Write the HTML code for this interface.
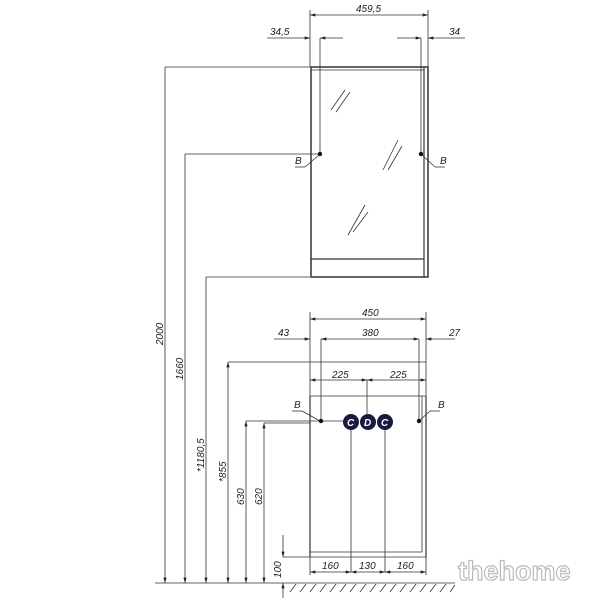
<!DOCTYPE html>
<html><head><meta charset="utf-8"><style>
html,body{margin:0;padding:0;background:#fff}
svg{display:block}
text{font-family:"Liberation Sans",sans-serif;font-style:italic;font-size:10px;fill:#222}
.wm{font-family:"Liberation Sans",sans-serif;font-style:normal;font-weight:bold;font-size:27px;fill:#fff;stroke:#bbb;stroke-width:1.2}
</style></head><body>
<svg width="600" height="600" viewBox="0 0 600 600" xmlns="http://www.w3.org/2000/svg">
<defs>
<marker id="a" viewBox="0 0 10 6" refX="10" refY="3" markerWidth="7" markerHeight="4" orient="auto-start-reverse"><path d="M0,0L10,3L0,6z" fill="#222"/></marker>
</defs>
<g stroke="#333" stroke-width="0.8" fill="none">
<!-- upper cabinet -->
<rect x="311" y="67" width="117" height="210" stroke-width="1.5"/>
<line x1="311" y1="70" x2="424" y2="70"/>
<line x1="424" y1="67" x2="424" y2="277" stroke-width="1.2"/>
<line x1="311" y1="259" x2="424" y2="259" stroke-width="1.2"/>
<!-- glass hatches -->
<line x1="331" y1="110" x2="345" y2="90"/><line x1="336" y1="112" x2="350" y2="92"/>
<line x1="383" y1="170" x2="398" y2="140"/><line x1="388" y1="170" x2="402" y2="146"/>
<line x1="348" y1="235" x2="365" y2="205"/><line x1="353" y1="232" x2="368" y2="212"/>
<!-- top dims -->
<line x1="310" y1="10" x2="310" y2="67"/><line x1="428" y1="10" x2="428" y2="67"/>
<line x1="310" y1="15" x2="428" y2="15" marker-start="url(#a)" marker-end="url(#a)"/>
<line x1="267" y1="38" x2="310" y2="38" marker-end="url(#a)"/>
<line x1="343" y1="38" x2="320" y2="38" marker-end="url(#a)"/>
<line x1="320" y1="38" x2="320" y2="154"/>
<line x1="397" y1="38" x2="421" y2="38" marker-end="url(#a)"/>
<line x1="465" y1="38" x2="428" y2="38" marker-end="url(#a)"/>
<line x1="421" y1="38" x2="421" y2="154"/>
<!-- B leaders upper -->
<line x1="295" y1="167" x2="305" y2="167"/><line x1="305" y1="167" x2="319" y2="155"/>
<line x1="435" y1="167" x2="445" y2="167"/><line x1="435" y1="167" x2="422" y2="155"/>
<line x1="292" y1="411" x2="302" y2="411"/><line x1="302" y1="411" x2="320" y2="421"/>
<line x1="430" y1="411" x2="440" y2="411"/><line x1="430" y1="411" x2="420" y2="420"/>
<!-- lower cabinet -->
<line x1="310" y1="396" x2="310" y2="557" stroke-width="1.2"/>
<line x1="426" y1="396" x2="426" y2="557" stroke-width="1.2"/>
<line x1="422" y1="396" x2="422" y2="552"/>
<line x1="310" y1="396" x2="426" y2="396"/>
<line x1="310" y1="552" x2="422" y2="552"/>
<line x1="283" y1="557" x2="426" y2="557"/>
<!-- lower dims -->
<line x1="310" y1="312" x2="310" y2="396"/><line x1="426" y1="312" x2="426" y2="396"/>
<line x1="310" y1="319" x2="426" y2="319" marker-start="url(#a)" marker-end="url(#a)"/>
<line x1="274" y1="339" x2="310" y2="339" marker-end="url(#a)"/>
<line x1="321" y1="339" x2="419" y2="339" marker-start="url(#a)" marker-end="url(#a)"/>
<line x1="455" y1="339" x2="426" y2="339" marker-end="url(#a)"/>
<line x1="321" y1="339" x2="321" y2="421"/><line x1="419" y1="339" x2="419" y2="421"/>
<line x1="228" y1="362" x2="426" y2="362"/>
<line x1="310" y1="380" x2="367" y2="380" marker-start="url(#a)" marker-end="url(#a)"/>
<line x1="367" y1="380" x2="426" y2="380" marker-start="url(#a)" marker-end="url(#a)"/>
<line x1="367" y1="380" x2="367" y2="414"/>
<line x1="246" y1="421" x2="343" y2="421"/>
<line x1="264" y1="423" x2="310" y2="423"/>
<line x1="351" y1="422" x2="351" y2="572"/><line x1="385" y1="422" x2="385" y2="572"/>
<line x1="310" y1="557" x2="310" y2="575"/><line x1="426" y1="557" x2="426" y2="575"/>
<line x1="310" y1="572" x2="351" y2="572" marker-start="url(#a)" marker-end="url(#a)"/>
<line x1="351" y1="572" x2="385" y2="572" marker-start="url(#a)" marker-end="url(#a)"/>
<line x1="385" y1="572" x2="426" y2="572" marker-start="url(#a)" marker-end="url(#a)"/>
<!-- left verticals -->
<line x1="165" y1="67" x2="310" y2="67"/>
<line x1="185" y1="154" x2="320" y2="154"/>
<line x1="206" y1="277" x2="310" y2="277"/>
<line x1="165" y1="67" x2="165" y2="583" marker-end="url(#a)"/>
<line x1="185" y1="154" x2="185" y2="583" marker-end="url(#a)"/>
<line x1="206" y1="277" x2="206" y2="583" marker-end="url(#a)"/>
<line x1="228" y1="362" x2="228" y2="583" marker-start="url(#a)" marker-end="url(#a)"/>
<line x1="246" y1="421" x2="246" y2="583" marker-start="url(#a)" marker-end="url(#a)"/>
<line x1="264" y1="423" x2="264" y2="583" marker-start="url(#a)" marker-end="url(#a)"/>
<line x1="155" y1="583" x2="285" y2="583"/>
<line x1="283" y1="535" x2="283" y2="557" marker-end="url(#a)"/>
<line x1="283" y1="598" x2="283" y2="583" marker-end="url(#a)"/>
<line x1="285" y1="583" x2="455" y2="583"/>
<path d="M290,592l6,-8M300,592l6,-8M310,592l6,-8M320,592l6,-8M330,592l6,-8M340,592l6,-8M350,592l6,-8M360,592l6,-8M370,592l6,-8M380,592l6,-8M390,592l6,-8M400,592l6,-8M410,592l6,-8M420,592l6,-8M430,592l6,-8M440,592l6,-8M450,592l5,-7"/>
</g>
<g fill="#111">
<circle cx="320" cy="154" r="2.2"/><circle cx="421" cy="154" r="2.2"/>
<circle cx="321" cy="421" r="2.2"/><circle cx="419" cy="421" r="2.2"/>
<circle cx="351" cy="422" r="8" fill="#1a1a40"/><circle cx="368" cy="422" r="8" fill="#1a1a40"/><circle cx="385" cy="422" r="8" fill="#1a1a40"/>
</g>
<g style="font-size:11px;font-weight:bold">
<text x="347" y="426" style="fill:#fff">C</text><text x="364" y="426" style="fill:#fff">D</text><text x="381" y="426" style="fill:#fff">C</text>
</g>
<text x="356" y="12">459,5</text>
<text x="270" y="35">34,5</text>
<text x="449" y="35">34</text>
<text x="295" y="164">B</text><text x="440" y="164">B</text>
<text x="294" y="408">B</text><text x="438" y="408">B</text>
<text x="362" y="316">450</text>
<text x="278" y="336">43</text>
<text x="362" y="336">380</text>
<text x="449" y="336">27</text>
<text x="332" y="378">225</text>
<text x="390" y="378">225</text>
<text x="322" y="569">160</text>
<text x="359" y="569">130</text>
<text x="397" y="569">160</text>
<g>
<text transform="translate(163,345) rotate(-90)">2000</text>
<text transform="translate(183,380) rotate(-90)">1660</text>
<text transform="translate(204,472) rotate(-90)">*1180,5</text>
<text transform="translate(226,482) rotate(-90)">*855</text>
<text transform="translate(244,505) rotate(-90)">630</text>
<text transform="translate(262,505) rotate(-90)">620</text>
<text transform="translate(281,578) rotate(-90)">100</text>
</g>
<text x="458" y="580" class="wm">thehome</text>
</svg>
</body></html>
